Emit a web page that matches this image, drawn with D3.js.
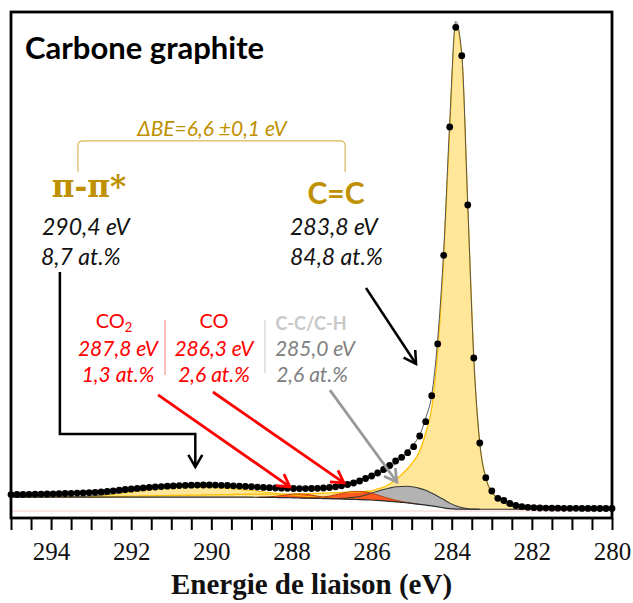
<!DOCTYPE html>
<html><head><meta charset="utf-8">
<script src="https://cdn.jsdelivr.net/npm/d3@7"></script>
<style>html,body{margin:0;padding:0;background:#fff;} svg{display:block;}</style>
</head><body>
<svg id="chart" width="633" height="603"></svg>
<script>
// ---- DATA (binding energy grid, eV) ----
const energy = [295.00,294.85,294.70,294.55,294.40,294.25,294.10,293.95,293.80,293.65,
293.50,293.35,293.20,293.05,292.90,292.75,292.60,292.45,292.30,292.15,
292.00,291.85,291.70,291.55,291.40,291.25,291.10,290.95,290.80,290.65,
290.50,290.35,290.20,290.05,289.90,289.75,289.60,289.45,289.30,289.15,
289.00,288.85,288.70,288.55,288.40,288.25,288.10,287.95,287.80,287.65,
287.50,287.35,287.20,287.05,286.90,286.75,286.60,286.45,286.30,286.15,
286.00,285.85,285.70,285.55,285.40,285.25,285.10,284.95,284.80,284.65,
284.50,284.35,284.20,284.05,283.90,283.75,283.60,283.45,283.30,283.15,
283.00,282.85,282.70,282.55,282.40,282.25,282.10,281.95,281.80,281.65,
281.50,281.35,281.20,281.05,280.90,280.75,280.60,280.45,280.30,280.15,
280.00];
// measured intensity (normalised, peak = 100)
const measured = [3.39,3.41,3.43,3.45,3.47,3.49,3.51,3.56,3.58,3.62,
3.66,3.70,3.74,3.80,3.87,3.95,4.05,4.18,4.30,4.44,
4.55,4.67,4.78,4.88,4.96,5.04,5.13,5.19,5.25,5.29,
5.33,5.35,5.38,5.38,5.35,5.31,5.27,5.21,5.15,5.09,
5.02,4.94,4.88,4.82,4.76,4.71,4.69,4.65,4.63,4.63,
4.65,4.69,4.76,4.86,5.00,5.21,5.48,5.79,6.20,6.72,
7.24,7.86,8.58,9.41,10.34,11.10,12.05,13.29,15.51,18.46,
23.84,34.53,52.86,79.39,100.0,94.13,63.26,31.63,14.06,6.88,
4.13,2.63,2.17,1.55,1.14,0.89,0.76,0.68,0.62,0.60,
0.58,0.58,0.56,0.56,0.56,0.54,0.54,0.54,0.52,0.52,
0.52];
// Shirley-type background
const background = [2.85,2.85,2.85,2.85,2.85,2.85,2.85,2.85,2.85,2.85,
2.85,2.85,2.85,2.85,2.85,2.85,2.85,2.85,2.85,2.85,
2.85,2.85,2.85,2.85,2.85,2.85,2.85,2.85,2.85,2.85,
2.85,2.85,2.85,2.85,2.85,2.85,2.85,2.85,2.85,2.85,
2.85,2.84,2.83,2.81,2.79,2.77,2.75,2.72,2.69,2.66,
2.63,2.60,2.57,2.54,2.51,2.48,2.44,2.40,2.36,2.32,
2.27,2.19,2.10,2.01,1.90,1.78,1.66,1.52,1.38,1.22,
1.05,0.86,0.66,0.48,0.40,0.38,0.37,0.36,0.36,0.36,
0.36,0.36,0.36,0.36,0.36,0.36,0.36,0.36,0.36,0.36,
0.36,0.36,0.36,0.36,0.36,0.36,0.36,0.36,0.36,0.36,
0.36];
// component heights above background
const ccSp2 = [0.02,0.02,0.02,0.03,0.03,0.03,0.03,0.04,0.04,0.04,
0.05,0.05,0.06,0.08,0.10,0.12,0.14,0.16,0.18,0.20,
0.22,0.24,0.26,0.28,0.30,0.32,0.34,0.36,0.38,0.40,
0.42,0.44,0.46,0.48,0.50,0.52,0.54,0.56,0.58,0.60,
0.62,0.64,0.66,0.68,0.70,0.72,0.75,0.79,0.84,0.90,
0.97,1.04,1.12,1.20,1.28,1.36,1.44,1.52,1.62,1.74,
1.90,2.36,2.85,3.58,4.51,5.77,7.13,8.81,11.02,14.91,
20.24,32.42,51.64,78.70,100.10,93.78,62.91,31.28,13.71,6.47,
3.58,2.23,1.41,0.79,0.37,0.17,0.06,0.02,0,0,
0,0,0,0,0,0,0,0,0,0,
0];
const piPiStar = [0.01,0.01,0.01,0.01,0.01,0.02,0.02,0.02,0.03,0.04,
0.05,0.08,0.12,0.18,0.25,0.34,0.45,0.58,0.72,0.88,
1.04,1.20,1.35,1.50,1.63,1.75,1.85,1.93,1.99,2.03,
2.05,2.05,2.03,1.99,1.94,1.88,1.81,1.72,1.62,1.51,
1.40,1.27,1.13,1.00,0.88,0.76,0.65,0.55,0.46,0.38,
0.31,0.25,0.20,0.15,0.11,0.08,0.05,0.03,0.01,0,
0,0,0,0,0,0,0,0,0,0,
0,0,0,0,0,0,0,0,0,0,
0,0,0,0,0,0,0,0,0,0,
0,0,0,0,0,0,0,0,0,0,
0];
const ccH = [0,0,0,0,0,0,0,0,0,0,
0,0,0,0,0,0,0,0,0,0,
0,0,0,0,0,0,0,0,0,0,
0,0,0,0,0,0,0,0,0,0,
0,0,0,0,0,0,0,0,0,0,
0,0,0.02,0.04,0.08,0.15,0.26,0.42,0.64,1.00,
1.45,1.90,2.35,2.75,3.10,3.30,3.45,3.45,3.30,3.05,
2.65,2.20,1.70,1.15,0.70,0.35,0.10,0.02,0,0,
0,0,0,0,0,0,0,0,0,0,
0,0,0,0,0,0,0,0,0,0,
0];
const coBond = [0,0,0,0,0,0,0,0,0,0,
0,0,0,0,0,0,0,0,0,0,
0,0,0,0,0,0,0,0,0,0,
0,0,0,0,0,0,0,0,0,0,
0,0,0,0,0,0,0,0,0,0.05,
0.10,0.20,0.35,0.55,0.85,1.15,1.45,1.65,1.70,1.62,
1.40,1.12,0.82,0.55,0.33,0.18,0.09,0.04,0,0,
0,0,0,0,0,0,0,0,0,0,
0,0,0,0,0,0,0,0,0,0,
0,0,0,0,0,0,0,0,0,0,
0];
const co2Bond = [0,0,0,0,0,0,0,0,0,0,
0,0,0,0,0,0,0,0,0,0,
0,0,0,0,0,0,0,0,0,0,
0,0,0,0,0,0,0,0,0,0,
0,0,0.05,0.12,0.25,0.42,0.62,0.78,0.85,0.80,
0.66,0.47,0.30,0.16,0.08,0.03,0,0,0,0,
0,0,0,0,0,0,0,0,0,0,
0,0,0,0,0,0,0,0,0,0,
0,0,0,0,0,0,0,0,0,0,
0,0,0,0,0,0,0,0,0,0,
0];
const tickLabels = [294,292,290,288,286,284,282,280];

// annotation anchors in data space [energy, intensity]
const piConnector = [[293.78,49.4],[293.78,15.9],[290.4,15.9],[290.4,9.1]];
const ccArrow = [[286.14,46.1],[284.89,30.4]];
const co2Arrow = [[291.33,24.0],[288.04,5.0]];
const coArrow = [[289.96,24.6],[286.69,5.8]];
const cchArrow = [[287.04,25.0],[285.37,6.0]];
const bracket = {e1:293.33, e2:286.66, top:76.5, bottom:70.1};

// ---- SCALES ----
const svg = d3.select('#chart');
const x = d3.scaleLinear().domain([295,280]).range([11,612]);
const y = d3.scaleLinear().domain([-1.447,103.16]).range([518,12]);
const idx = d3.range(energy.length);

// zero line
svg.append('line').attr('x1',x(295)).attr('x2',x(280)).attr('y1',y(0)).attr('y2',y(0))
  .attr('stroke','#f6cccc').attr('stroke-width',1);

function compArea(h, fill){
  const a = d3.area().curve(d3.curveMonotoneX)
    .x(i=>x(energy[i])).y0(i=>y(background[i])).y1(i=>y(background[i]+h[i]));
  svg.append('path').datum(idx).attr('d',a).attr('fill',fill).attr('stroke','none');
}
function compTop(h, stroke, w){
  const keep = idx.filter(i => h[i]>0 || (i>0 && h[i-1]>0) || (i<idx.length-1 && h[i+1]>0));
  const l = d3.line().curve(d3.curveMonotoneX)
    .x(i=>x(energy[i])).y(i=>y(background[i]+h[i]));
  svg.append('path').datum(keep).attr('d',l).attr('fill','none').attr('stroke',stroke).attr('stroke-width',w);
}
compArea(piPiStar,'#ffe699');
compArea(ccSp2,'#ffe699');
compArea(ccH,'#b3b3b3');
compArea(co2Bond,'#ff5a1f');
compArea(coBond,'#ff5a1f');
compTop(piPiStar,'#f2c200',1);
compTop(ccSp2,'#ffc000',1.3);
compTop(ccH,'#3a3a3a',1.1);
compTop(co2Bond,'#a83000',0.8);
compTop(coBond,'#a83000',0.8);

// background line
svg.append('path').datum(idx)
  .attr('d', d3.line().curve(d3.curveMonotoneX).x(i=>x(energy[i])).y(i=>y(background[i])))
  .attr('fill','none').attr('stroke','#2a2a2a').attr('stroke-width',1.2);

// envelope (sum of fit)
svg.append('path').datum(idx)
  .attr('d', d3.line().curve(d3.curveMonotoneX).x(i=>x(energy[i]))
     .y(i=>y(background[i]+ccSp2[i]+piPiStar[i]+ccH[i]+coBond[i]+co2Bond[i])))
  .attr('fill','none').attr('stroke','#555').attr('stroke-width',1);

// measured points
svg.append('g').selectAll('circle').data(idx).join('circle')
  .attr('cx',i=>x(energy[i])).attr('cy',i=>y(measured[i])).attr('r',3.4).attr('fill','#000');

// frame
svg.append('rect').attr('x',x(295)).attr('y',y(103.16)).attr('width',x(280)-x(295)).attr('height',y(-1.447)-y(103.16))
  .attr('fill','none').attr('stroke','#000').attr('stroke-width',2.8);

// x axis
const axis = d3.axisBottom(x).tickValues(d3.range(280,295.01,0.5)).tickSize(12).tickSizeOuter(0)
  .tickFormat(d => tickLabels.includes(d) ? String(d) : '');
const gx = svg.append('g').attr('transform',`translate(0,${y(-1.447)})`).call(axis);
gx.select('.domain').remove();
gx.selectAll('.tick line').attr('stroke','#000').attr('stroke-width',2);
gx.selectAll('.tick text').attr('font-family','"Liberation Serif", serif').attr('font-size',25)
  .attr('fill','#111').attr('y',24).attr('dy','0.71em');
svg.append('text').attr('x',(x(295)+x(280))/2).attr('y',594).attr('text-anchor','middle')
  .attr('font-family','"Liberation Serif", serif').attr('font-weight','bold').attr('font-size',29)
  .attr('fill','#111').text('Energie de liaison (eV)');

// ---- ANNOTATIONS ----
function arrow(pts, color, w){
  const p = pts.map(d=>[x(d[0]), y(d[1])]);
  svg.append('path').attr('d', d3.line()(p)).attr('fill','none').attr('stroke',color)
    .attr('stroke-width',w).attr('stroke-linejoin','miter');
  const [x1,y1] = p[p.length-2], [x2,y2] = p[p.length-1];
  const ang = Math.atan2(y2-y1, x2-x1), L = 14, s = Math.PI/6;
  const h = [[x2 - L*Math.cos(ang - s), y2 - L*Math.sin(ang - s)],[x2,y2],[x2 - L*Math.cos(ang + s), y2 - L*Math.sin(ang + s)]];
  svg.append('path').attr('d', d3.line()(h)).attr('fill','none').attr('stroke',color)
    .attr('stroke-width',w).attr('stroke-linejoin','miter');
}
arrow(piConnector,'#000',2.5);
arrow(ccArrow,'#000',2.5);
arrow(co2Arrow,'#ff0000',2.8);
arrow(coArrow,'#ff0000',2.8);
arrow(cchArrow,'#999999',2.8);

// bracket
{
  const bx1 = x(bracket.e1), bx2 = x(bracket.e2), by = y(bracket.top), bb = y(bracket.bottom), r = 5;
  svg.append('path').attr('d',`M${bx1},${bb} V${by+r} Q${bx1},${by} ${bx1+r},${by} H${bx2-r} Q${bx2},${by} ${bx2},${by+r} V${bb}`)
    .attr('fill','none').attr('stroke','#d7b85a').attr('stroke-width',1.2);
}

const sans = 'Lato, "Open Sans", sans-serif';
function txt(t, xx, yy, opts){
  const o = Object.assign({size:20, weight:'normal', style:'normal', fill:'#000', anchor:'start', family:sans}, opts||{});
  return svg.append('text').attr('x',xx).attr('y',yy).attr('font-family',o.family).attr('font-size',o.size)
    .attr('font-weight',o.weight).attr('font-style',o.style).attr('fill',o.fill).attr('text-anchor',o.anchor).text(t);
}
const gold = '#bf9000';
txt('Carbone graphite', 25, 59, {size:31, weight:'bold'});
txt('ΔBE=6,6 ±0,1 eV', 212, 136, {size:21, style:'italic', fill:gold, anchor:'middle'});
txt('π-π*', 89, 197, {size:31, weight:'bold', fill:gold, anchor:'middle', family:'"DejaVu Serif", serif'});
txt('C=C', 336, 204, {size:30, weight:'bold', fill:gold, anchor:'middle'});
txt('290,4 eV', 42, 235, {size:23, style:'italic', fill:'#111'});
txt('8,7 at.%', 41, 265, {size:23, style:'italic', fill:'#111'});
txt('283,8 eV', 290, 235, {size:23, style:'italic', fill:'#111'});
txt('84,8 at.%', 290, 265, {size:23, style:'italic', fill:'#111'});

const co2t = txt('CO', 114, 328, {size:20, fill:'#ff0000', anchor:'middle'});
co2t.append('tspan').attr('dy',4).attr('font-size',13).text('2');
txt('287,8 eV', 118, 356, {size:21, style:'italic', fill:'#ff0000', anchor:'middle'});
txt('1,3 at.%', 118, 382, {size:21, style:'italic', fill:'#ff0000', anchor:'middle'});
txt('CO', 214, 328, {size:20, fill:'#ff0000', anchor:'middle'});
txt('286,3 eV', 214, 356, {size:21, style:'italic', fill:'#ff0000', anchor:'middle'});
txt('2,6 at.%', 214, 382, {size:21, style:'italic', fill:'#ff0000', anchor:'middle'});
txt('C-C/C-H', 311, 330, {size:18, weight:'bold', fill:'#c8c8c8', anchor:'middle'});
txt('285,0 eV', 315, 356, {size:21, style:'italic', fill:'#808080', anchor:'middle'});
txt('2,6 at.%', 312, 382, {size:21, style:'italic', fill:'#808080', anchor:'middle'});
svg.append('line').attr('x1',165).attr('x2',165).attr('y1',320).attr('y2',375).attr('stroke','#ff8080').attr('stroke-width',1);
svg.append('line').attr('x1',265).attr('x2',265).attr('y1',320).attr('y2',373).attr('stroke','#c8c8c8').attr('stroke-width',1);
</script>
</body></html>
